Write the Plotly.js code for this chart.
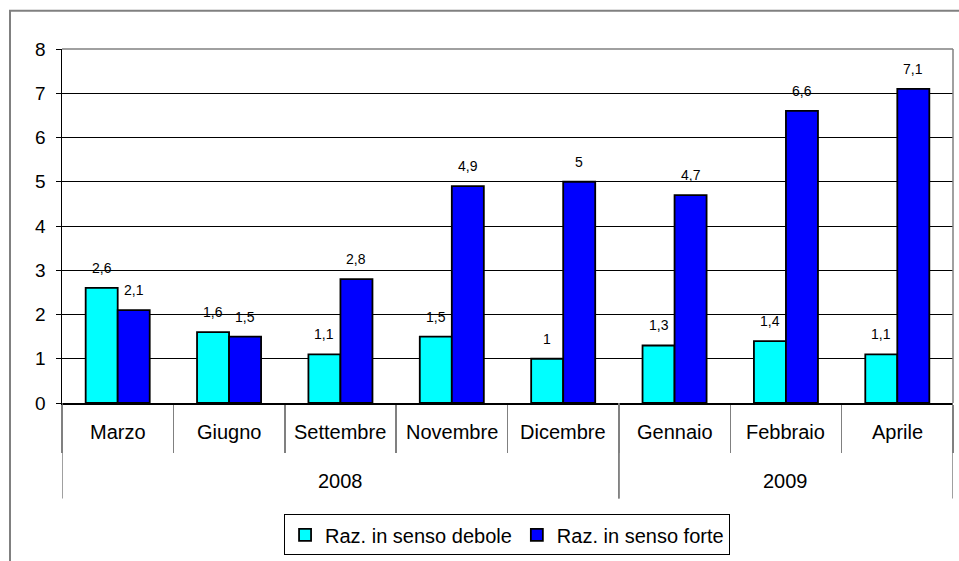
<!DOCTYPE html>
<html>
<head>
<meta charset="utf-8">
<script src="https://cdn.plot.ly/plotly-3.0.1.min.js"></script>
<style>html,body{margin:0;padding:0;background:#fff;}#chart{width:959px;height:561px;}</style>
</head>
<body>
<div id="chart"></div>
<script>
// ---- data ----
var months = ["Marzo", "Giugno", "Settembre", "Novembre", "Dicembre", "Gennaio", "Febbraio", "Aprile"];
var years = ["2008", "2009"];
var yearSpan = [[0, 4], [5, 7]]; // category index ranges for each year
var deboleValues = [2.6, 1.6, 1.1, 1.5, 1.0, 1.3, 1.4, 1.1];
var forteValues  = [2.1, 1.5, 2.8, 4.9, 5.0, 4.7, 6.6, 7.1];
var seriesNames = ["Raz. in senso debole", "Raz. in senso forte"];
var yTicks = [0, 1, 2, 3, 4, 5, 6, 7, 8];

// ---- layout constants ----
var W = 959, H = 561;
var M = {l: 62, r: 6, t: 49, b: 156};
var plotW = W - M.l - M.r, plotH = H - M.t - M.b;
function py(px) { return (H - M.b - px) / plotH; }   // pixel row -> paper y
function px(p) { return (p - M.l) / plotW; }         // pixel col -> paper x
var FONT = "Liberation Sans, Arial, sans-serif";
var catPx = plotW / months.length;
var barGap = 0.425;
var barW = catPx * (1 - barGap) / 2;

function fmt(v) { return String(v).replace('.', ','); }

var traces = [
  {type: 'bar', name: seriesNames[0], x: months, y: deboleValues,
   marker: {color: '#00FFFF', line: {color: '#000', width: 1.8}}, hoverinfo: 'none'},
  {type: 'bar', name: seriesNames[1], x: months, y: forteValues,
   marker: {color: '#0000FF', line: {color: '#000', width: 1.8}}, hoverinfo: 'none'}
];

var annotations = [];
var shapes = [];
[deboleValues, forteValues].forEach(function (vals, s) {
  vals.forEach(function (v, i) {
    annotations.push({x: i, y: v, xref: 'x', yref: 'y', text: fmt(v), showarrow: false,
      xshift: (s === 0 ? -1 : 1) * barW / 2, yshift: 20, yanchor: 'middle',
      font: {family: FONT, size: 14, color: '#000'}});
  });
});
months.forEach(function (m, i) {
  annotations.push({x: i, y: py(434), xref: 'x', yref: 'paper', text: m, showarrow: false,
    yanchor: 'middle', font: {family: FONT, size: 20, color: '#000'}});
});
years.forEach(function (yr, k) {
  var a = yearSpan[k][0], b = yearSpan[k][1];
  annotations.push({x: (a + b) / 2, y: py(483), xref: 'x', yref: 'paper', text: yr, showarrow: false,
    yanchor: 'middle', font: {family: FONT, size: 20, color: '#000'}});
  [a - 0.5, b + 0.5].forEach(function (xb) {
    shapes.push({type: 'line', xref: 'x', yref: 'paper', x0: xb, x1: xb, y0: 0, y1: py(501),
      line: {color: '#808080', width: 1.5}});
  });
});
// plot area border (top/right grey)
shapes.push({type: 'line', xref: 'paper', yref: 'paper', x0: 0, x1: 1, y0: 1, y1: 1, line: {color: '#808080', width: 1.5}, layer: 'above'});
shapes.push({type: 'line', xref: 'paper', yref: 'paper', x0: 1, x1: 1, y0: 0, y1: 1, line: {color: '#808080', width: 1.5}, layer: 'above'});
// outer chart frame
shapes.push({type: 'line', xref: 'paper', yref: 'paper', x0: px(10), x1: px(10), y0: py(10.5), y1: py(565), line: {color: '#808080', width: 2}});
shapes.push({type: 'line', xref: 'paper', yref: 'paper', x0: px(9), x1: px(965), y0: py(10.5), y1: py(10.5), line: {color: '#808080', width: 2}});

var layout = {
  width: W, height: H,
  margin: M,
  paper_bgcolor: '#fff', plot_bgcolor: '#fff',
  barmode: 'group', bargap: barGap, bargroupgap: 0,
  showlegend: true,
  legend: {orientation: 'h', x: 0.4995, xanchor: 'center', y: py(517), yanchor: 'top',
    bordercolor: '#000', borderwidth: 1, font: {family: FONT, size: 20, color: '#000'},
    itemwidth: 30, tracegroupgap: 0},
  xaxis: {type: 'category', categoryorder: 'array', categoryarray: months,
    range: [-0.5, months.length - 0.5], showticklabels: false,
    tickson: 'boundaries', ticks: 'outside', ticklen: 48, tickwidth: 1.5, tickcolor: '#808080',
    showgrid: false, showline: true, linecolor: '#000', linewidth: 1.5, zeroline: false, fixedrange: true},
  yaxis: {range: [0, 8], tickvals: yTicks, ticktext: yTicks.map(String),
    ticks: 'outside', ticklen: 5, tickcolor: '#000', tickwidth: 1, ticklabelstandoff: 6,
    showgrid: true, gridcolor: '#000', gridwidth: 1,
    showline: true, linecolor: '#000', linewidth: 1.5, zeroline: false,
    tickfont: {family: FONT, size: 19, color: '#000'}, fixedrange: true},
  annotations: annotations,
  shapes: shapes
};

Plotly.newPlot('chart', traces, layout, {displayModeBar: false, staticPlot: true});
</script>
</body>
</html>
